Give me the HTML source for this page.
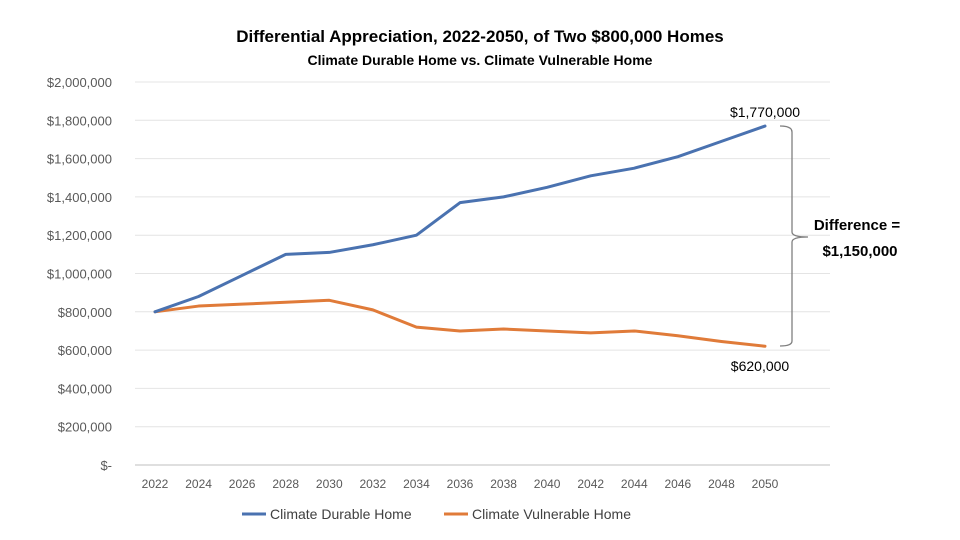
<!DOCTYPE html>
<html><head><meta charset="utf-8">
<style>
body{margin:0;background:#fff;}
svg{display:block;font-family:"Liberation Sans",Calibri,sans-serif;}
</style></head>
<body>
<svg id="chart" width="960" height="540" viewBox="0 0 960 540">
<text x="480" y="42" text-anchor="middle" font-size="17" font-weight="bold" fill="#000">Differential Appreciation, 2022-2050, of Two $800,000 Homes</text>
<text x="480" y="65" text-anchor="middle" font-size="14" font-weight="bold" fill="#000">Climate Durable Home vs. Climate Vulnerable Home</text>
<g id="grid"></g><g id="yt"></g><g id="xt"></g><g id="lines"></g>
<text x="765" y="117" text-anchor="middle" font-size="14" fill="#000">$1,770,000</text>
<text x="760" y="371" text-anchor="middle" font-size="14" fill="#000">$620,000</text>
<path d="M780,126 Q792,126 792,132 L792,232 Q792,237 808,237 Q792,237 792,242 L792,341 Q792,346 780,346" fill="none" stroke="#7f7f7f" stroke-width="1.3"/>
<text x="857" y="230" text-anchor="middle" font-size="15" font-weight="bold" fill="#000">Difference =</text>
<text x="860" y="256" text-anchor="middle" font-size="15" font-weight="bold" fill="#000">$1,150,000</text>
<g>
<line x1="242" y1="514" x2="266" y2="514" stroke="#4a72b0" stroke-width="3"/>
<text x="270" y="519" font-size="14" fill="#404040">Climate Durable Home</text>
<line x1="444" y1="514" x2="468" y2="514" stroke="#e07b39" stroke-width="3"/>
<text x="472" y="519" font-size="14" fill="#404040">Climate Vulnerable Home</text>
</g>
</svg>
<script>
const years=[2022,2024,2026,2028,2030,2032,2034,2036,2038,2040,2042,2044,2046,2048,2050];
const durable=[800000,880000,990000,1100000,1110000,1150000,1200000,1370000,1400000,1450000,1510000,1550000,1610000,1690000,1770000];
const vulnerable=[800000,830000,840000,850000,860000,810000,720000,700000,710000,700000,690000,700000,675000,645000,620000];
const yTicks=[0,200000,400000,600000,800000,1000000,1200000,1400000,1600000,1800000,2000000];
const NS="http://www.w3.org/2000/svg";
const x=i=>155+i*(610/(years.length-1));
const y=v=>465-v/2000000*383;
function mk(tag,attrs,parent){const e=document.createElementNS(NS,tag);for(const k in attrs)e.setAttribute(k,attrs[k]);document.getElementById(parent).appendChild(e);return e;}
yTicks.forEach(v=>{
  const g=mk('line',{x1:135,x2:830,y1:y(v),y2:y(v),stroke:v===0?'#bfbfbf':'#e4e4e4','stroke-width':1},'grid');
  
  
  const t=mk('text',{x:112,y:y(v)+5,'text-anchor':'end','font-size':13,fill:'#595959'},'yt');
  t.textContent=v===0?'$-':'$'+v.toLocaleString('en-US');
  
  
});
years.forEach((yr,i)=>{
  const t=mk('text',{x:x(i),y:488,'text-anchor':'middle','font-size':12,fill:'#595959'},'xt');
  t.textContent=yr;
  
  
});
function line(data,color,name){
  const p=mk('polyline',{points:data.map((v,i)=>x(i)+','+y(v)).join(' '),fill:'none',stroke:color,'stroke-width':3,'stroke-linejoin':'round','stroke-linecap':'round'},'lines');
  
  
}
line(vulnerable,'#e07b39','vulnerable-line');
line(durable,'#4a72b0','durable-line');
</script>
</body></html>
